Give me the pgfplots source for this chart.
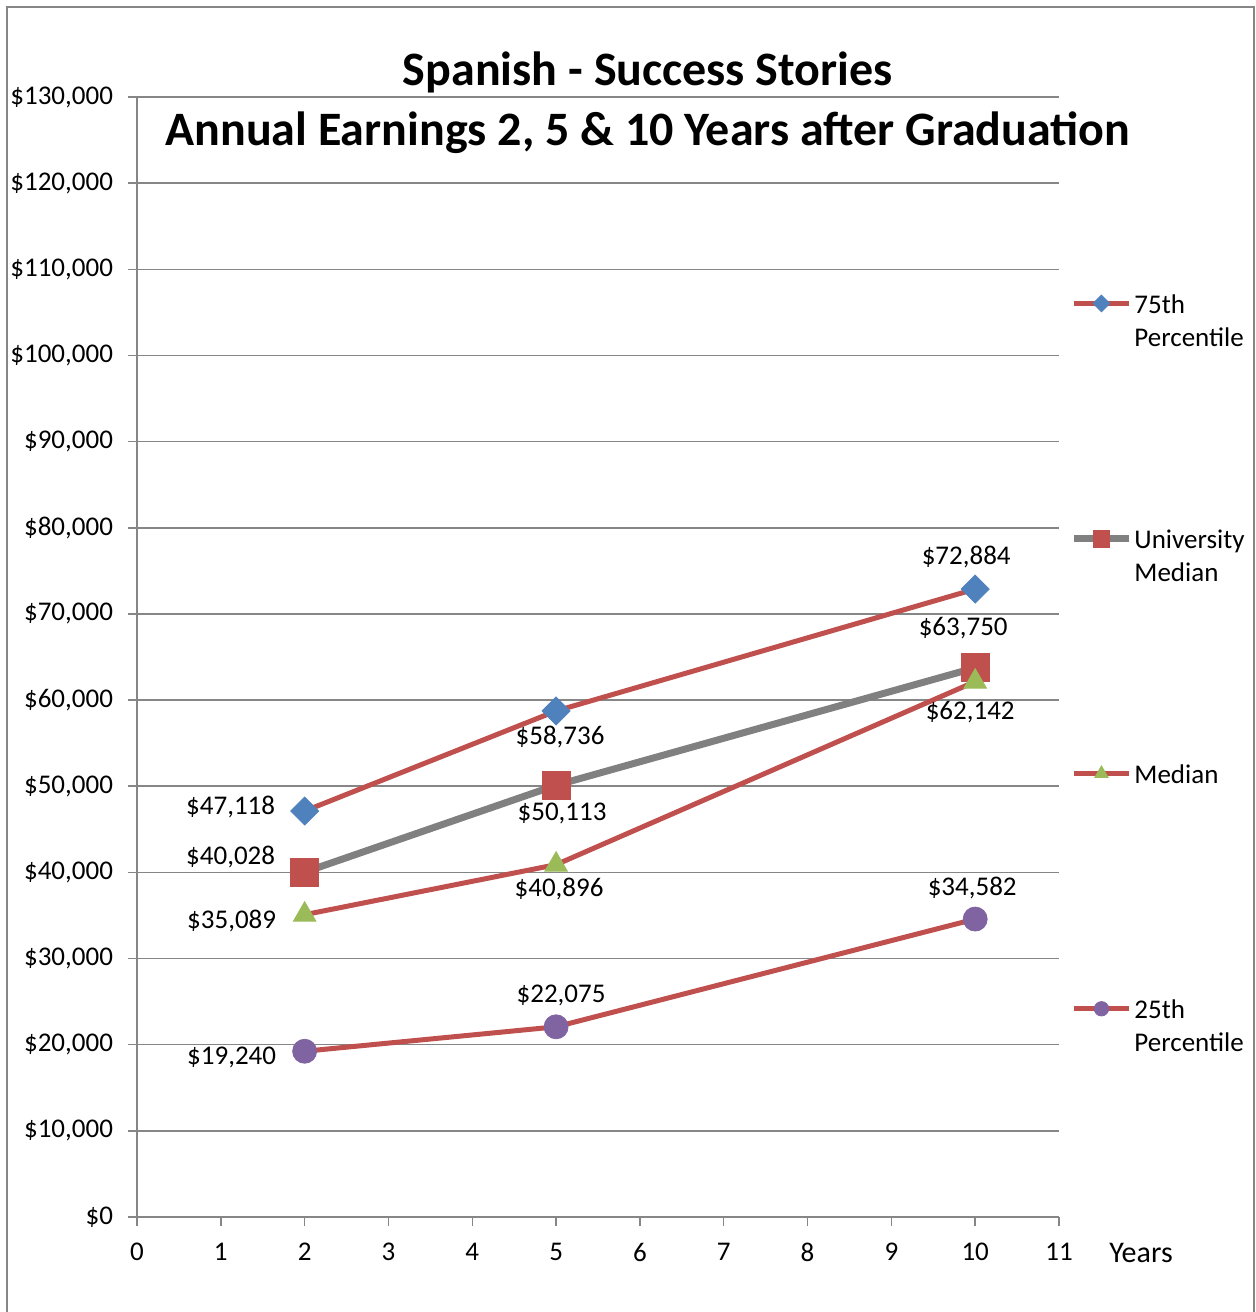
\documentclass[border=0pt]{standalone}
\usepackage{fontspec}
\setmainfont{Carlito}
\usepackage{pgfplots}
\pgfplotsset{compat=1.18}
\usepackage{pgfplotstable}

\definecolor{xred}{HTML}{C0504D}
\definecolor{xblue}{HTML}{4F81BD}
\definecolor{xgreen}{HTML}{9BBB59}
\definecolor{xpurple}{HTML}{8064A2}
\definecolor{xgray}{HTML}{808080}
\definecolor{gridgray}{HTML}{868686}

\pgfplotstableread{
x y lab dx dy
2 47118 47,118 -37 2
5 58736 58,736 2 -13
10 72884 72,884 -4.5 16
}\pctA
\pgfplotstableread{
x y lab dx dy
2 40028 40,028 -37 7.5
5 50113 50,113 3 -14
10 63750 63,750 -6 20
}\univ
\pgfplotstableread{
x y lab dx dy
2 35089 35,089 -36.5 -3
5 40896 40,896 1.5 -12
10 62142 62,142 -2.5 -15
}\med
\pgfplotstableread{
x y lab dx dy
2 19240 19,240 -36.5 -3
5 22075 22,075 2.5 15.5
10 34582 34,582 -1.5 15.5
}\pctB

\newcommand\lbl{\fontsize{13.5}{16}\selectfont}
\newcommand\legtxt[2]{\parbox[t]{70pt}{\strut #1\\#2\strut}}

\pgfplotsset{
  lab/.style={
    nodes near coords={\$\pgfplotspointmeta},
    point meta=explicit symbolic,
    visualization depends on={\thisrow{dx}\as\dx},
    visualization depends on={\thisrow{dy}\as\dy},
    nodes near coords style={anchor=center, xshift=\dx pt, yshift=\dy pt, font=\lbl, text=black, inner sep=0pt},
  },
  legend image code/.code={
    \draw[mark repeat=2,mark phase=2,#1,every mark/.append style={scale=0.6}]
      plot coordinates {(0pt,5pt) (13.75pt,5pt) (27.5pt,5pt)};
  },
}

\begin{document}
\begin{tikzpicture}
\useasboundingbox (0,0) rectangle (627.5pt,656pt);
\draw[gridgray, line width=0.75pt] (3.5pt,-2pt) -- (3.5pt,652.5pt) -- (627pt,652.5pt) -- (627pt,-2pt);
\begin{axis}[
  at={(68.5pt,47.5pt)}, anchor=south west,
  scale only axis, width=461pt, height=560pt,
  xmin=0, xmax=11, ymin=0, ymax=130000,
  xtick={0,1,...,11}, ytick={0,10000,...,130000},
  scaled y ticks=false,
  yticklabel={\$\pgfmathprintnumber[fixed,precision=0,1000 sep={,}]{\tick}},
  /pgf/number format/assume math mode=true,
  axis lines*=left,
  axis line style={gridgray, line width=0.75pt},
  tick style={gridgray, line width=0.75pt},
  major tick length=4.5pt, tick align=outside,
  ymajorgrids, grid style={gridgray, line width=0.75pt},
  tick label style={font=\lbl},
  xticklabel style={yshift=-5pt},
  yticklabel style={xshift=-4pt},
  clip=false,
  legend style={at={(axis description cs:1.012,0.8277)}, anchor=north west,
    draw=none, fill=none, inner sep=0pt, column sep=1pt, row sep=104.5pt,
    font=\fontsize{13.5}{16.5}\selectfont,
    cells={anchor=base west}, nodes={inner sep=0pt}},
]
\addplot[xred, line width=2.5pt, mark=square*, mark size=4.95pt,
  mark options={rotate=45, draw=xblue, fill=xblue, line width=0.4pt}, lab]
  table[x=x, y=y, meta=lab] {\pctA};
\addlegendentry{\legtxt{75th}{Percentile}}
\addplot[xgray, line width=3.5pt, mark=square*, mark size=7pt,
  mark options={draw=xred, fill=xred, line width=0.4pt}, lab]
  table[x=x, y=y, meta=lab] {\univ};
\addlegendentry{\legtxt{University}{Median}}
\addplot[xred, line width=2.5pt, mark=triangle*, mark size=6.5pt,
  mark options={draw=xgreen, fill=xgreen, line width=0.4pt}, lab]
  table[x=x, y=y, meta=lab] {\med};
\addlegendentry{\legtxt{Median}{}}
\addplot[xred, line width=2.5pt, mark=*, mark size=6pt,
  mark options={draw=xpurple, fill=xpurple, line width=0.4pt}, lab]
  table[x=x, y=y, meta=lab] {\pctB};
\addlegendentry{\legtxt{25th}{Percentile}}

\node[font=\bfseries\fontsize{24}{28}\selectfont, anchor=base] at (axis description cs:0.554,1.0103) {Spanish - Success Stories};
\node[font=\bfseries\fontsize{24}{28}\selectfont, anchor=base] at (axis description cs:0.554,0.9567) {Annual Earnings 2, 5 \& 10 Years after Graduation};
\node[font=\fontsize{15}{18}\selectfont, anchor=base] at (axis description cs:1.0889,-0.0402) {Years};
\end{axis}
\end{tikzpicture}
\end{document}
